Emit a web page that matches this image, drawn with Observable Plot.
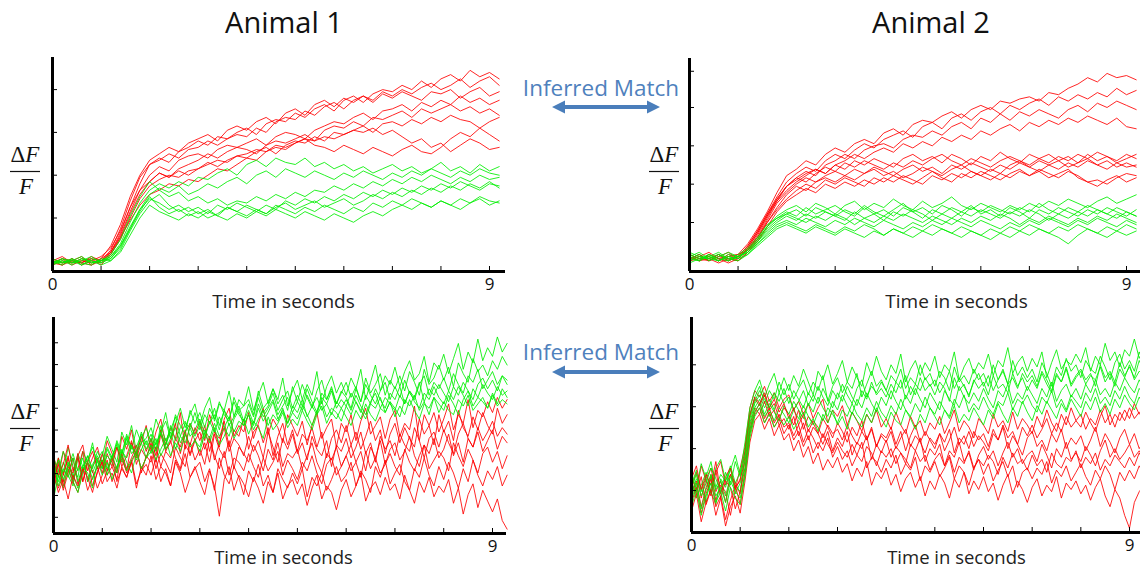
<!DOCTYPE html>
<html><head><meta charset="utf-8">
<script src="https://cdn.jsdelivr.net/npm/d3@7"></script>
<script src="https://cdn.jsdelivr.net/npm/@observablehq/plot@0.6"></script>
<style>
body{margin:0;background:#fff;}
#chart{position:relative;width:1140px;height:571px;overflow:hidden;background:#fff;}
#chart svg{position:absolute;left:0;top:0;}
</style></head><body><div id="chart"></div>
<script>
// ---- sample times (seconds) ----
const timeTop = [0,0.2,0.4,0.6,0.8,1,1.2,1.4,1.6,1.8,2,2.2,2.4,2.6,2.8,3,3.2,3.4,3.6,3.8,4,4.2,4.4,4.6,4.8,5,5.2,5.4,5.6,5.8,6,6.2,6.4,6.6,6.8,7,7.2,7.4,7.6,7.8,8,8.2,8.4,8.6,8.8,9,9.2];
const timeBottom = [0,0.1,0.2,0.3,0.4,0.5,0.6,0.7,0.8,0.9,1,1.1,1.2,1.3,1.4,1.5,1.6,1.7,1.8,1.9,2,2.1,2.2,2.3,2.4,2.5,2.6,2.7,2.8,2.9,3,3.1,3.2,3.3,3.4,3.5,3.6,3.7,3.8,3.9,4,4.1,4.2,4.3,4.4,4.5,4.6,4.7,4.8,4.9,5,5.1,5.2,5.3,5.4,5.5,5.6,5.7,5.8,5.9,6,6.1,6.2,6.3,6.4,6.5,6.6,6.7,6.8,6.9,7,7.1,7.2,7.3,7.4,7.5,7.6,7.7,7.8,7.9,8,8.1,8.2,8.3,8.4,8.5,8.6,8.7,8.8,8.9,9,9.1,9.2,9.3];

// ---- Animal 1, top row (ΔF/F, % of axis height) ----
const animal1TopRed = [
[5,3,6,4,7,5,9,18,30,41,50,53,51,56,58,61,59,63,62,65,67,64,69,71,70,74,72,76,78,75,80,82,79,83,85,84,87,85,89,86,90,92,89,94,91,93,90],
[4,6,3,5,4,6,12,22,35,45,52,55,58,56,60,62,64,61,66,68,66,70,72,69,74,76,73,78,80,77,81,79,82,80,84,82,85,83,86,88,85,87,90,86,89,91,87],
[6,4,5,7,3,5,10,20,33,44,50,52,55,53,57,58,61,59,62,64,63,67,65,70,72,71,75,73,77,79,76,80,82,79,83,81,84,82,80,84,83,85,81,84,86,82,84],
[3,5,4,6,5,4,9,17,28,38,45,49,47,52,54,55,53,57,59,58,60,62,59,63,65,64,62,66,68,70,69,72,74,71,75,76,78,75,79,77,80,78,82,79,81,78,80],
[5,7,4,5,6,3,8,16,27,36,42,46,44,48,50,52,55,53,56,58,57,55,59,61,60,62,64,61,66,68,67,70,68,72,71,73,75,72,76,74,76,78,75,77,74,76,73],
[4,3,5,4,6,5,8,15,25,34,40,43,45,44,47,48,50,52,51,54,55,57,56,59,58,60,62,61,63,62,64,66,65,67,64,66,63,60,62,58,60,56,59,62,60,57,58],
[6,4,6,3,5,7,11,19,30,38,42,46,44,47,45,48,51,49,52,54,53,56,58,55,59,61,60,63,61,65,64,66,68,65,69,70,68,71,69,72,70,73,71,70,67,64,61],
[4,6,5,4,3,6,9,16,24,31,36,38,41,40,43,42,45,48,47,50,53,52,56,58,57,60,62,59,58,56,59,57,55,58,56,54,57,59,56,55,58,62,65,63,67,70,72]
];
const animal1TopGreen = [
[5,4,6,3,5,4,7,13,23,32,38,41,39,42,40,44,43,46,48,45,50,52,49,53,51,50,53,49,51,48,50,47,49,46,48,50,47,49,46,48,51,47,49,46,50,47,49],
[3,6,4,5,7,4,6,11,20,29,36,39,37,40,36,38,41,39,42,44,41,45,47,44,48,46,44,47,45,43,46,44,47,45,43,46,44,47,45,48,46,44,47,45,48,46,45],
[6,4,5,3,6,5,8,15,26,35,42,38,35,37,33,35,32,34,31,33,32,35,33,36,34,37,35,38,37,40,38,41,39,42,40,43,41,44,42,45,43,41,44,42,45,43,44],
[4,5,3,6,4,5,6,12,21,29,34,32,29,31,28,30,27,31,29,32,30,28,31,29,33,31,34,32,35,33,36,34,37,35,38,36,39,37,40,38,41,39,42,40,38,41,40],
[5,3,6,4,3,6,5,10,19,27,33,36,31,28,30,27,29,26,30,28,31,29,27,30,32,29,31,33,30,32,34,31,33,36,34,37,35,38,36,39,37,40,38,41,39,42,39],
[4,6,5,7,4,5,7,12,20,28,35,30,27,29,26,28,25,27,30,28,26,29,27,31,29,27,30,28,31,29,27,30,28,32,30,33,31,34,32,30,33,31,34,32,35,33,32],
[3,5,4,6,5,3,5,9,17,25,31,28,26,24,27,25,28,26,24,27,25,28,26,29,27,25,28,26,24,27,25,23,26,28,26,29,31,29,32,30,33,31,29,32,34,31,33]
];

// ---- Animal 2, top row ----
const animal2TopRed = [
[7,5,8,6,7,8,13,20,28,37,45,48,52,50,55,58,56,60,62,60,65,67,64,69,71,70,73,75,72,76,78,76,80,79,81,82,80,84,83,86,88,91,89,93,91,92,90],
[6,8,5,7,6,7,12,19,27,35,42,46,49,47,52,55,53,57,60,58,62,64,66,63,68,70,67,72,74,71,75,77,74,78,76,79,81,78,82,80,83,81,84,82,86,83,85],
[8,6,7,5,8,6,11,18,26,34,40,44,47,45,50,52,55,53,57,59,60,58,62,64,63,66,64,68,70,67,72,70,74,71,75,73,76,74,72,76,78,75,79,77,80,78,76],
[5,7,6,8,5,7,10,17,25,33,40,43,46,48,46,50,52,55,53,56,58,56,60,58,61,59,63,61,64,62,66,64,67,69,66,70,68,71,69,72,70,73,71,69,72,68,67],
[6,8,5,7,9,6,11,18,26,33,38,42,45,48,46,50,48,52,50,53,51,49,53,55,52,54,51,55,53,50,54,52,56,53,51,55,53,51,54,52,55,53,56,54,52,55,53],
[7,5,8,6,5,7,12,19,27,34,40,44,42,46,49,47,51,49,52,50,48,51,49,52,50,53,55,52,50,53,51,49,52,54,52,50,53,55,52,54,51,55,52,54,51,53,55],
[5,6,7,5,7,8,10,16,24,32,37,41,44,42,45,47,45,48,46,49,47,45,48,50,47,49,46,50,48,51,49,47,50,48,51,49,52,50,48,51,49,52,50,48,51,49,50],
[8,6,5,8,6,5,9,15,23,30,36,40,38,42,44,42,45,43,46,48,45,47,44,46,49,47,45,48,50,47,45,48,46,50,52,49,47,50,52,49,51,53,50,52,49,51,49],
[6,7,9,6,4,6,10,16,23,29,34,38,41,39,43,41,44,42,40,44,42,45,43,41,44,47,44,42,46,44,47,45,43,46,48,45,47,44,46,48,44,42,40,43,45,42,44],
[7,5,6,4,6,5,9,14,21,28,33,36,39,37,41,39,42,40,43,41,44,42,45,43,41,45,43,46,44,47,45,43,46,44,47,45,48,46,44,47,45,42,43,41,44,46,45]
];
const animal2TopGreen = [
[6,8,5,7,9,7,10,15,21,26,29,31,28,32,30,27,31,33,29,32,30,34,31,29,33,30,32,35,31,29,32,30,28,31,29,32,30,33,31,34,32,30,33,35,32,34,36],
[7,5,8,6,5,8,11,16,22,25,28,26,30,27,29,31,28,26,30,27,29,26,30,28,25,29,27,30,28,31,27,29,26,30,28,25,29,27,30,28,26,29,27,30,28,26,29],
[5,7,6,8,6,7,9,14,19,23,26,24,27,25,28,26,24,28,25,27,24,28,26,29,27,24,27,25,28,26,29,27,25,28,26,29,27,24,27,25,28,26,29,27,25,28,26],
[8,6,7,5,7,6,10,14,20,24,27,25,23,26,24,27,25,22,25,23,26,24,27,25,23,26,24,22,25,23,26,24,27,25,22,25,23,26,24,22,25,23,26,24,27,25,23],
[6,5,7,9,6,5,8,13,18,22,24,22,25,23,21,24,22,25,23,21,24,22,20,23,21,24,22,25,23,21,24,22,20,23,21,24,22,25,23,21,24,22,25,23,21,24,22],
[9,7,6,5,8,7,9,13,17,21,23,21,19,22,20,18,21,19,22,20,17,20,18,21,19,22,20,18,21,19,17,20,18,21,19,22,20,18,21,19,22,20,18,21,19,22,20],
[4,6,8,5,7,6,8,12,16,20,22,20,18,21,19,17,20,18,16,19,17,20,18,16,19,17,20,18,16,19,17,15,18,16,19,17,20,18,16,13,17,20,18,16,19,17,19],
[7,9,6,8,5,7,10,15,21,25,27,29,26,30,28,26,29,27,31,28,26,29,32,28,30,27,31,29,26,30,28,31,29,27,30,28,32,29,27,30,28,31,29,27,30,28,26]
];

// ---- Animal 1, bottom row ----
const animal1BottomRed = [
[34,26,38,30,23,36,41,29,35,40,31,43,37,28,45,39,48,35,42,50,38,47,53,41,49,44,56,39,51,46,52,43,55,48,40,53,58,45,50,47,56,44,51,58,46,53,49,42,55,50,45,52,41,50,56,44,49,53,40,51,47,55,43,52,58,46,50,54,44,53,57,45,51,48,59,43,55,50,56,47,53,60,48,55,51,62,49,57,54,61,56,63,58,62],
[22,33,27,36,25,30,38,24,31,35,28,37,31,40,34,29,42,36,45,38,44,36,48,39,42,51,37,46,41,49,43,50,38,47,44,52,40,48,45,53,39,47,50,42,49,36,45,51,41,48,38,46,43,49,40,47,35,44,48,42,50,41,47,39,45,52,43,48,37,46,51,42,49,44,40,53,46,50,41,55,47,52,43,57,49,45,54,48,56,50,46,58,51,55],
[36,27,32,41,29,35,24,33,38,30,37,29,34,40,31,36,43,32,39,35,42,33,46,38,35,44,40,48,36,43,47,39,45,34,42,49,38,44,41,36,45,38,43,35,47,40,33,44,39,46,37,42,34,45,39,36,43,31,41,38,44,35,40,47,37,42,33,45,39,43,36,46,41,38,49,43,35,44,47,40,48,42,37,46,51,44,40,49,43,47,52,45,49,46],
[30,21,27,35,24,19,29,33,22,28,34,27,31,25,37,30,35,41,28,36,33,40,31,38,43,35,30,41,37,44,36,42,33,46,39,35,43,30,40,37,33,41,36,29,39,34,42,31,37,35,39,30,36,42,33,28,37,34,40,31,36,41,33,38,29,40,35,43,32,39,42,34,38,45,36,31,41,37,44,35,39,46,36,42,33,44,40,47,38,43,48,39,45,42],
[26,35,22,31,28,37,24,33,29,21,27,34,24,31,36,28,33,38,30,35,41,30,37,33,28,40,35,31,42,34,39,32,44,36,30,38,27,35,33,29,37,31,26,35,29,33,38,27,34,30,25,33,29,36,28,23,32,35,27,31,36,29,33,26,38,30,35,28,32,37,31,27,39,33,29,36,41,30,34,38,35,29,42,36,31,39,34,28,37,40,33,38,30,36],
[28,19,25,16,27,22,30,20,26,31,23,29,35,24,30,26,33,21,31,27,36,25,31,28,22,34,29,37,26,30,33,24,30,20,35,27,23,31,26,18,29,24,32,22,27,19,30,25,21,28,23,30,17,26,22,28,20,25,31,24,27,33,22,29,25,19,31,26,34,23,28,32,24,20,30,26,35,27,22,31,25,33,28,21,30,24,34,27,22,29,25,31,22,27],
[25,32,20,28,35,23,30,26,19,29,33,24,28,21,31,26,34,23,29,32,27,35,24,30,22,33,28,19,26,31,24,18,29,22,8,25,31,20,27,23,17,26,21,14,24,19,28,16,22,25,18,23,13,21,27,16,22,19,11,20,25,17,22,28,15,21,24,18,26,20,23,16,27,20,14,24,19,26,17,22,19,25,14,21,9,18,23,12,20,15,10,16,6,2]
];
const animal1BottomGreen = [
[24,35,28,40,31,26,38,33,42,30,36,45,39,33,47,41,50,38,44,49,42,53,47,56,44,51,58,49,55,60,50,58,63,52,60,57,66,54,62,59,68,57,64,70,60,67,62,72,59,66,71,62,69,64,75,60,68,73,65,70,64,72,67,76,62,70,78,66,73,69,77,68,75,80,71,74,82,70,79,76,83,74,81,88,76,84,79,90,80,86,82,91,84,88],
[31,24,33,27,22,35,29,36,30,38,33,40,35,43,37,46,39,48,42,44,49,41,47,52,44,55,50,46,57,51,56,49,58,53,61,55,52,63,57,59,62,55,66,58,61,67,60,64,57,68,61,69,63,58,66,71,62,67,60,65,70,63,68,61,72,65,69,74,64,71,67,73,66,75,70,64,76,69,72,78,71,77,68,79,74,70,81,75,78,73,80,76,82,78],
[35,29,38,32,26,37,31,34,40,33,30,39,34,42,36,45,40,37,47,41,46,39,50,43,48,54,45,51,49,56,48,55,51,58,50,57,53,61,55,52,60,54,63,56,59,65,57,62,66,58,64,59,67,61,56,65,62,68,60,66,63,58,67,61,69,64,60,66,70,62,68,63,71,65,62,69,73,64,70,67,72,66,74,69,65,73,70,76,67,71,75,69,73,71],
[20,29,24,33,27,21,31,36,28,34,38,30,36,41,33,44,37,40,46,39,44,38,47,41,50,43,49,52,45,48,53,46,51,55,48,57,50,54,59,52,57,51,60,54,58,62,55,59,63,56,61,57,64,59,55,63,60,66,58,62,59,65,61,56,64,60,67,62,58,65,62,68,60,66,63,70,61,67,64,69,65,61,68,64,70,66,62,69,72,67,71,66,73,69],
[27,34,25,31,37,29,35,24,32,36,30,36,33,28,38,35,41,34,39,43,37,42,46,39,44,49,42,47,51,45,50,44,52,47,54,49,45,53,57,50,55,50,58,52,56,61,53,57,51,59,56,62,54,59,63,57,60,55,61,58,62,57,64,59,55,61,65,58,63,60,57,64,60,66,61,58,65,62,68,63,60,66,62,68,64,59,67,63,69,65,62,68,64,66],
[16,27,21,30,24,19,28,33,25,31,34,27,36,30,39,33,28,37,42,35,38,44,36,41,47,39,45,42,49,43,40,48,44,51,45,49,54,47,52,50,55,48,53,57,50,55,52,58,51,56,53,59,55,50,57,61,54,58,56,52,59,55,61,57,53,60,58,63,56,61,58,54,62,59,64,57,61,55,63,60,57,64,60,55,62,66,59,63,61,58,65,60,67,63],
[33,22,30,26,35,24,31,28,21,34,27,33,25,31,36,29,34,38,30,35,41,34,39,44,36,42,38,46,40,43,38,46,42,49,41,45,51,44,48,53,46,52,49,44,54,48,51,56,49,53,50,57,52,48,55,59,51,56,53,58,54,50,57,53,60,55,52,58,56,61,54,59,55,62,57,53,60,58,63,56,61,57,55,62,59,64,57,60,63,58,64,59,62,60]
];

// ---- Animal 2, bottom row ----
const animal2BottomRed = [
[26,19,31,24,17,28,33,22,27,20,30,40,58,66,63,68,61,65,58,62,64,57,61,55,60,53,58,62,51,57,54,59,50,56,52,47,55,51,57,49,53,48,56,50,46,54,49,52,45,51,48,54,46,51,57,47,52,49,44,53,50,46,55,49,52,47,56,48,53,50,46,54,49,57,51,47,55,50,58,52,49,56,51,47,54,59,50,55,52,57,53,60,55,58],
[21,28,16,25,30,19,24,14,27,23,18,36,55,62,59,64,57,60,53,58,55,50,57,48,54,51,46,53,49,44,51,47,42,49,45,52,43,48,40,46,44,49,41,47,38,45,50,42,47,43,39,46,42,48,37,44,41,47,40,45,42,38,46,43,49,39,45,41,36,44,47,40,43,38,46,42,48,39,44,41,45,38,43,49,40,46,42,37,44,48,41,46,39,43],
[17,24,12,21,27,15,22,19,8,20,25,33,50,58,55,61,54,57,50,53,48,54,45,51,43,49,46,41,47,38,44,40,47,36,42,39,45,34,41,37,43,35,40,37,32,41,38,44,33,39,36,41,31,38,35,42,33,37,29,36,40,34,38,31,37,42,35,39,32,36,38,33,41,36,30,39,35,42,34,37,33,40,36,31,38,43,35,39,34,37,41,35,38,34],
[23,18,26,13,20,29,16,24,21,11,19,30,48,56,60,53,58,51,55,49,51,45,50,42,48,44,39,46,41,37,42,38,35,41,36,33,40,37,31,38,35,39,32,37,34,30,38,33,36,29,34,37,31,36,28,35,32,38,30,34,31,36,33,27,35,30,37,32,34,29,36,31,34,28,37,32,30,35,33,38,30,35,32,37,29,34,31,36,33,30,35,31,37,33],
[14,21,9,18,25,12,17,6,15,22,13,28,46,55,58,51,56,49,53,46,50,43,47,40,45,37,42,38,44,35,40,34,38,31,36,42,30,35,33,28,34,30,36,27,32,29,35,24,31,28,33,26,30,35,25,31,28,22,30,34,27,32,24,29,33,26,31,21,28,30,25,30,27,33,23,29,26,31,24,28,32,26,22,29,25,31,27,20,28,24,29,25,31,27],
[25,31,20,27,22,33,18,26,30,21,24,38,54,63,60,65,58,62,56,60,53,58,50,55,47,52,49,44,50,46,48,43,50,45,41,47,43,49,40,45,42,47,39,44,48,40,45,42,37,44,41,46,38,43,49,41,45,39,47,43,46,40,48,43,50,44,47,41,49,45,50,44,48,53,46,51,47,54,49,52,55,48,53,50,57,51,55,49,56,52,58,53,56,54],
[10,18,5,14,20,8,16,3,12,17,9,24,42,52,55,48,53,45,50,43,46,38,43,35,40,32,37,29,34,30,35,28,32,24,30,26,33,22,28,25,30,22,27,19,25,28,21,26,17,24,20,27,23,16,25,21,28,18,24,20,26,19,23,15,22,27,18,24,20,14,21,25,17,22,19,26,16,23,20,24,18,22,15,21,25,17,12,20,16,8,2,14,19,22]
];
const animal2BottomGreen = [
[28,20,32,25,18,30,34,24,29,36,27,42,58,66,71,63,69,74,65,72,66,73,68,76,70,64,75,71,78,69,74,80,70,77,72,68,79,73,82,75,71,78,74,83,70,76,80,73,79,75,82,72,78,75,84,71,77,81,74,79,76,83,73,80,77,86,74,79,82,75,81,77,84,72,79,85,76,80,78,83,79,86,75,82,78,88,80,84,77,85,82,90,81,86],
[22,29,19,26,33,21,27,24,31,23,28,38,55,63,68,60,66,62,70,64,69,62,67,71,64,70,66,73,61,68,72,65,70,67,74,63,69,75,68,71,66,73,70,76,67,72,69,78,71,74,68,75,72,66,77,70,73,69,76,71,74,68,78,71,75,69,80,73,77,72,76,70,79,74,68,77,73,81,75,78,72,80,76,74,82,77,71,79,83,76,80,75,84,78],
[18,25,21,14,27,20,24,17,26,22,19,34,51,60,64,58,62,57,65,60,63,57,61,66,59,64,60,67,62,58,65,61,68,63,59,66,62,70,64,67,63,69,65,71,62,68,64,72,66,69,64,70,67,61,72,66,69,63,71,67,70,64,73,67,69,65,74,68,72,66,71,67,74,69,65,73,70,76,68,72,75,69,73,71,77,70,74,68,76,72,78,71,75,73],
[24,16,22,28,19,13,25,21,30,18,23,30,48,58,62,55,60,56,52,59,55,61,57,53,60,56,63,58,54,61,57,64,59,55,62,58,65,60,56,63,59,66,61,57,64,60,67,62,58,65,61,57,66,62,59,68,63,60,65,61,67,62,58,66,63,69,60,65,62,68,64,60,67,63,70,61,66,69,63,67,62,69,65,71,64,67,63,70,66,72,68,65,71,67],
[15,23,11,20,26,17,21,14,24,19,16,28,46,56,60,54,57,52,58,55,51,57,53,59,54,50,56,52,58,55,51,57,54,60,55,52,58,54,61,56,53,59,55,62,57,54,60,56,63,58,55,61,57,54,62,58,64,56,60,57,63,58,55,61,59,65,57,62,60,64,59,56,63,60,66,58,62,57,64,61,58,65,61,67,60,63,59,66,62,68,63,60,67,64],
[21,27,17,23,30,25,19,28,22,33,26,36,53,61,66,62,58,65,61,67,60,66,62,58,65,61,68,63,59,66,62,69,64,60,67,71,63,68,65,70,66,62,70,67,73,64,69,66,72,68,71,65,69,75,67,72,68,64,70,74,68,73,66,71,76,69,72,67,74,70,73,68,75,71,66,74,70,77,69,73,76,71,74,68,78,72,75,70,79,73,77,72,80,75],
[12,20,8,17,23,14,19,10,21,16,13,26,44,54,58,51,55,49,53,50,54,48,52,56,49,53,47,55,51,57,50,54,48,56,52,49,55,51,58,53,49,56,52,50,57,53,48,55,51,58,54,50,57,53,59,51,55,52,58,54,50,57,53,60,55,51,58,54,61,56,52,59,55,61,57,53,60,56,62,58,54,61,57,63,56,60,55,62,58,64,60,57,63,59]
];

// ---- ticks & labels ----
const xTickSeconds = [1,2,3,4,5,6,7,8,9];
const xTickLabels = [0, 9];
const yTicksA1Top = [25,45,65,85];
const yTicksA2Top = [23,41,59,77,94];
const yTicksA1Bottom = [7.5,17.6,27.7,37.8,47.9,58,68.1,78.2,88.3];
const yTicksA2Bottom = [19.5,39,58.5,78];
const animalTitles = ["Animal 1", "Animal 2"];
const xAxisLabel = "Time in seconds";
const matchLabel = "Inferred Match";

const RED = "#ff0000", GREEN = "#00ee00";

function buildRows(time, red, green, interleave) {
  const series = [];
  if (interleave) {
    const n = Math.max(red.length, green.length);
    for (let k = 0; k < n; k++) {
      if (red[k]) series.push({vals: red[k], color: RED, id: "r" + k});
      if (green[k]) series.push({vals: green[k], color: GREEN, id: "g" + k});
    }
  } else {
    red.forEach((v, k) => series.push({vals: v, color: RED, id: "r" + k}));
    green.forEach((v, k) => series.push({vals: v, color: GREEN, id: "g" + k}));
  }
  return series.flatMap(s => s.vals.map((v, i) => ({t: time[i], v, id: s.id, color: s.color})));
}

const panels = [
  {red: animal1TopRed, green: animal1TopGreen, time: timeTop, yTicks: yTicksA1Top, left: 52, right: 505, top: 57, bottom: 271, nine: 489, labelDx: 4.5, labelDy: 30, labelSize: 19, interleave: false},
  {red: animal2TopRed, green: animal2TopGreen, time: timeTop, yTicks: yTicksA2Top, left: 689, right: 1140, top: 58, bottom: 271, nine: 1126, labelDx: 41.5, labelDy: 30, labelSize: 19, interleave: false},
  {red: animal1BottomRed, green: animal1BottomGreen, time: timeBottom, yTicks: yTicksA1Bottom, left: 53, right: 506, top: 317, bottom: 533, nine: 492, labelDx: 3.5, labelDy: 25, labelSize: 18.5, interleave: true},
  {red: animal2BottomRed, green: animal2BottomGreen, time: timeBottom, yTicks: yTicksA2Bottom, left: 691, right: 1140, top: 317, bottom: 532, nine: 1129, labelDx: 40.5, labelDy: 26, labelSize: 18.5, interleave: true}
];

const chart = document.getElementById("chart");
const W = 1140, H = 571;

for (const p of panels) {
  const pxPerSec = (p.nine - p.left) / 9;
  const xmax = (p.right - p.left) / pxPerSec;
  const pxPerUnit = (p.bottom - p.top) / 100;
  const rows = buildRows(p.time, p.red, p.green, p.interleave);
  const svg = Plot.plot({
    width: W, height: H,
    marginLeft: p.left, marginRight: W - p.right, marginTop: p.top, marginBottom: H - p.bottom,
    style: {background: "transparent", fontFamily: "'Open Sans', sans-serif"},
    x: {domain: [0, xmax], axis: null, label: null},
    y: {domain: [0, 100], axis: null, label: null},
    color: {type: "identity"},
    marks: [
      Plot.line(rows, {x: "t", y: "v", z: "id", stroke: "color", strokeWidth: 1, strokeOpacity: 0.85, strokeLinejoin: "round"}),
      Plot.ruleX(xTickSeconds, {x: d => d, y1: 0, y2: 5 / pxPerUnit, stroke: "#000", strokeWidth: 1}),
      Plot.ruleY(p.yTicks, {y: d => d, x1: 0, x2: 5 / pxPerSec, stroke: "#000", strokeWidth: 1}),
      Plot.ruleY([0], {stroke: "#000", strokeWidth: 3}),
      Plot.ruleX([0], {stroke: "#000", strokeWidth: 3}),
      Plot.text(xTickLabels, {x: d => d, y: 0, dy: 13, text: d => String(d), fontSize: 17, fill: "#111", lineAnchor: "middle"}),
      Plot.text([xAxisLabel], {frameAnchor: "bottom", dx: p.labelDx, dy: p.labelDy, fontSize: p.labelSize, fill: "#222", lineAnchor: "middle"})
    ]
  });
  svg.style.position = "absolute";
  svg.style.left = "0px";
  svg.style.top = "0px";
  chart.appendChild(svg);
}

// ---- annotations overlay (titles, ΔF/F, Inferred Match arrows) ----
function fracLabel(dx, dy) {
  return `<text x="${25 + dx}" y="${162 + dy}" text-anchor="middle" font-family="'Liberation Serif', serif" font-size="23" fill="#111">Δ<tspan font-style="italic">F</tspan></text>
  <line x1="${10 + dx}" x2="${40 + dx}" y1="${171.5 + dy}" y2="${171.5 + dy}" stroke="#111" stroke-width="1.2"/>
  <text x="${26 + dx}" y="${194 + dy}" text-anchor="middle" font-family="'Liberation Serif', serif" font-size="23" font-style="italic" fill="#111">F</text>`;
}
function arrow(y) {
  const l = 552, r = 660, hl = 13, hh = 6.5, sh = 2;
  return `<polygon fill="#4a7ebb" points="${l},${y} ${l+hl},${y-hh} ${l+hl},${y-sh} ${r-hl},${y-sh} ${r-hl},${y-hh} ${r},${y} ${r-hl},${y+hh} ${r-hl},${y+sh} ${l+hl},${y+sh} ${l+hl},${y+hh}"/>`;
}
const overlay = `<svg xmlns="http://www.w3.org/2000/svg" width="${W}" height="${H}" style="position:absolute;left:0;top:0" font-family="'Open Sans', sans-serif">
  <text x="284" y="33" text-anchor="middle" font-size="29" fill="#111">${animalTitles[0]}</text>
  <text x="931" y="33" text-anchor="middle" font-size="29" fill="#111">${animalTitles[1]}</text>
  ${fracLabel(0, 0)}${fracLabel(639, 0)}${fracLabel(0, 257)}${fracLabel(639, 257)}
  <text x="601" y="96" text-anchor="middle" font-size="22.5" fill="#4f81bd">${matchLabel}</text>
  <text x="601" y="360" text-anchor="middle" font-size="22.5" fill="#4f81bd">${matchLabel}</text>
  ${arrow(107)}${arrow(372)}
</svg>`;
chart.insertAdjacentHTML("beforeend", overlay);
</script>
</body></html>
